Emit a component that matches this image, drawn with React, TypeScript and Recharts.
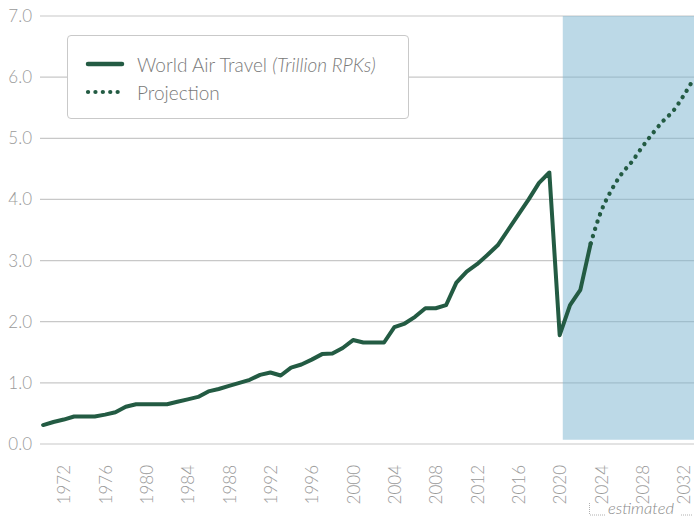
import { LineChart, Line, XAxis, YAxis, CartesianGrid, ReferenceArea } from "recharts"

const years = [
  1970, 1971, 1972, 1973, 1974, 1975, 1976, 1977, 1978, 1979,
  1980, 1981, 1982, 1983, 1984, 1985, 1986, 1987, 1988, 1989,
  1990, 1991, 1992, 1993, 1994, 1995, 1996, 1997, 1998, 1999,
  2000, 2001, 2002, 2003, 2004, 2005, 2006, 2007, 2008, 2009,
  2010, 2011, 2012, 2013, 2014, 2015, 2016, 2017, 2018, 2019,
  2020, 2021, 2022, 2023, 2024, 2025, 2026, 2027, 2028, 2029,
  2030, 2031, 2032, 2033,
]

// trillion RPKs, 1970-2023
const airTravel = [
  0.31, 0.36, 0.4, 0.45, 0.45, 0.45, 0.48, 0.52, 0.61, 0.65,
  0.65, 0.65, 0.65, 0.69, 0.73, 0.77, 0.86, 0.9, 0.95, 1.0,
  1.05, 1.13, 1.17, 1.12, 1.25, 1.3, 1.38, 1.47, 1.48, 1.57,
  1.7, 1.66, 1.66, 1.66, 1.91, 1.97, 2.08, 2.22, 2.22, 2.27,
  2.64, 2.82, 2.94, 3.09, 3.25, 3.5, 3.75, 4.0, 4.27, 4.44,
  1.78, 2.27, 2.52, 3.28,
]

// 2023-2033
const projectionStart = 2023
const projection = [3.28, 3.8, 4.15, 4.42, 4.62, 4.86, 5.08, 5.28, 5.45, 5.7, 5.98]

const yTicks = [0, 1, 2, 3, 4, 5, 6, 7]
const xTicks = [1972, 1976, 1980, 1984, 1988, 1992, 1996, 2000, 2004, 2008, 2012, 2016, 2020, 2024, 2028, 2032]
const estimatedFrom = 2020.3

const data = years.map((year, i) => {
  const p = year - projectionStart
  return {
    year,
    actual: i < airTravel.length ? airTravel[i] : null,
    projection: p >= 0 && p < projection.length ? projection[p] : null,
  }
})

const GREEN = "#235b43"
const GREY_TEXT = "#9a9a9a"
const FONT = "Lato, 'Open Sans', sans-serif"

function YearTick({ x, y, payload }: any) {
  return (
    <text
      transform={`translate(${x},${y + 13}) rotate(-90)`}
      textAnchor="end"
      dominantBaseline="central"
      fill={GREY_TEXT}
      fontSize={17}
      fontWeight={300}
      fontFamily={FONT}
    >
      {payload.value}
    </text>
  )
}

function LegendBox() {
  const row = { display: "flex", alignItems: "center", height: 28 }
  return (
    <div
      style={{
        position: "absolute",
        left: 67,
        top: 35,
        width: 342,
        height: 84,
        boxSizing: "border-box",
        border: "1px solid #c9c9c9",
        borderRadius: 4,
        background: "#fff",
        padding: "14px 0 0 17px",
        fontFamily: FONT,
        fontWeight: 300,
        fontSize: 19,
        color: "#7a7a7a",
      }}
    >
      <div style={row}>
        <svg width={52} height={10}>
          <line x1={3} y1={5} x2={37} y2={5} stroke={GREEN} strokeWidth={4.5} strokeLinecap="round" />
        </svg>
        <span>
          World Air Travel <i>(Trillion RPKs)</i>
        </span>
      </div>
      <div style={row}>
        <svg width={52} height={10}>
          <line x1={3} y1={5} x2={38} y2={5} stroke={GREEN} strokeWidth={4.2} strokeLinecap="round" strokeDasharray="0.1 7.3" />
        </svg>
        <span>Projection</span>
      </div>
    </div>
  )
}

export default function App() {
  return (
    <div style={{ position: "fixed", left: 0, top: 0, width: 694, height: 519, background: "#fff" }}>
      <LineChart width={694} height={519} data={data} margin={{ top: 16, right: 0, bottom: 0, left: 0 }}>
        <CartesianGrid vertical={false} stroke="#c8c8c8" strokeWidth={1.2} />
        <ReferenceArea x1={estimatedFrom} x2={2033} y1={0.07} y2={7} fill="#79b3cf" fillOpacity={0.5} stroke="none" />
        <XAxis
          dataKey="year"
          type="number"
          domain={[1969.7, 2033]}
          ticks={xTicks}
          interval={0}
          axisLine={false}
          tickLine={false}
          tick={<YearTick />}
          height={75}
        />
        <YAxis
          domain={[0, 7]}
          ticks={yTicks}
          interval={0}
          axisLine={false}
          tickLine={false}
          width={40}
          tickMargin={2}
          tickFormatter={(v: number) => v.toFixed(1)}
          tick={{ fill: GREY_TEXT, fontSize: 17, fontWeight: 300, fontFamily: FONT }}
        />
        <Line
          dataKey="actual"
          type="linear"
          stroke={GREEN}
          strokeWidth={4}
          strokeLinejoin="round"
          strokeLinecap="round"
          dot={false}
          activeDot={false}
          isAnimationActive={false}
        />
        <Line
          dataKey="projection"
          type="monotone"
          stroke={GREEN}
          strokeWidth={4.3}
          strokeLinecap="round"
          strokeDasharray="0.1 7.5"
          dot={false}
          activeDot={false}
          isAnimationActive={false}
        />
      </LineChart>
      <LegendBox />
      <svg style={{ position: "absolute", left: 585, top: 497, overflow: "visible" }} width={109} height={22}>
        <line x1={4.5} y1={6} x2={4.5} y2={18} stroke="#b0b0b0" strokeWidth={1} strokeDasharray="1 1" />
        <line x1={5} y1={18} x2={20} y2={18} stroke="#b0b0b0" strokeWidth={1} strokeDasharray="1 1" />
        <text x={23} y={17} fill="#8a8a8a" fontSize={16.5} fontStyle="italic" fontWeight={300} fontFamily={FONT}>
          estimated
        </text>
        <line x1={96} y1={18} x2={108} y2={18} stroke="#b0b0b0" strokeWidth={1} strokeDasharray="1 1" />
      </svg>
    </div>
  )
}
